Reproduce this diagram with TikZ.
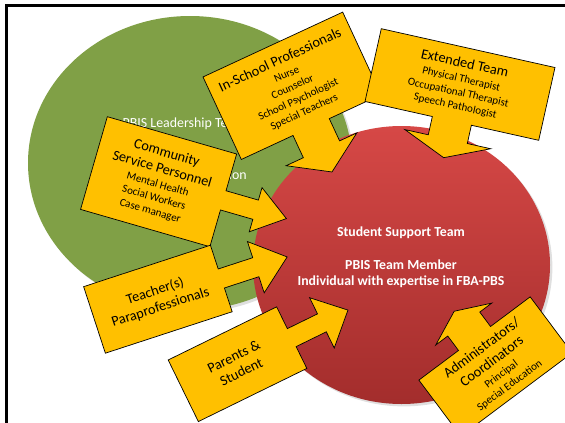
\documentclass[tikz,border=0pt]{standalone}
\usepackage{fontspec}
\setmainfont{Carlito}
\usetikzlibrary{shadows}
\definecolor{olivegreen}{RGB}{128,160,70}
\definecolor{redtop}{RGB}{214,72,70}
\definecolor{redbottom}{RGB}{163,45,44}
\definecolor{gold}{RGB}{255,192,0}
\newcommand{\hd}{\fontsize{14.3}{17}\selectfont}
\newcommand{\sm}{\fontsize{11}{13.8}\selectfont}
\tikzstyle{callout} = [draw=black, fill=gold, line width=0.7pt, line join=miter]
\tikzstyle{calltext} = [align=center, font=\sm, inner sep=0pt]
\tikzstyle{teamtext} = [align=center, text=white, inner sep=0pt]

\begin{document}
\begin{tikzpicture}[x=1pt, y=-1pt]
    \clip (0,0) rectangle (565,423);
    % slide frame
    \draw [line width=3pt] (6,423) -- (6,5.7) -- (565,5.7);

    % the two teams
    \fill [olivegreen, drop shadow={opacity=0.25}] (190,163) ellipse [x radius=162, y radius=147];
    \path [top color=redtop, bottom color=redbottom, drop shadow={opacity=0.25}] (401.5,265) ellipse [x radius=148.5, y radius=139];
    \node (leader) [teamtext, font=\fontsize{13.9}{17}\selectfont] at (184,124) {PBIS Leadership Team};
    \node (leaderb) [teamtext, font=\fontsize{13.9}{17}\selectfont, anchor=east] at (247,175) {ion};
    \node (sst) [teamtext, font=\fontsize{13.8}{16.5}\bfseries\selectfont] at (401,257) {Student Support Team\\[16.5pt] PBIS Team Member\\ Individual with expertise in FBA-PBS};

    % callouts
    \begin{scope}[shift={(158.6,181.7)}, rotate=-16.1, transform shape]
        \draw [callout] (-67.3,-48.25) -- (67.3,-48.25) -- (67.3,-10) -- (101,-10) -- (101,-23) -- (133,0) -- (101,23) -- (101,10) -- (67.3,10) -- (67.3,48.25) -- (-67.3,48.25) -- cycle;
        \node (community) [calltext] at (0,0) {{\hd Community}\\[3pt] {\hd Service Personnel}\\[1pt] Mental Health\\ Social Workers\\ Case manager};
    \end{scope}
    \begin{scope}[shift={(157.9,299.2)}, rotate=18.1, transform shape]
        \draw [callout] (-66.7,-35) -- (66.7,-35) -- (66.7,-10) -- (103,-10) -- (103,-27) -- (136,0) -- (103,27) -- (103,10) -- (66.7,10) -- (66.7,35) -- (-66.7,35) -- cycle;
        \node (teacher) [calltext, font=\hd] at (0,0) {Teacher(s)\\ Paraprofessionals};
    \end{scope}
    \begin{scope}[shift={(237.5,364.2)}, rotate=26.1, transform shape]
        \draw [callout] (-60.4,-34.3) -- (60.4,-34.3) -- (60.4,-10) -- (94,-10) -- (94,-28) -- (123,0) -- (94,28) -- (94,10) -- (60.4,10) -- (60.4,34.3) -- (-60.4,34.3) -- cycle;
        \node (parents) [calltext, font=\hd] at (0,0) {Parents \&\\ Student};
    \end{scope}
    \begin{scope}[shift={(292,85.8)}, rotate=24.9, transform shape]
        \draw [callout] (-77,-45.5) -- (77,-45.5) -- (77,45.5) -- (20,45.5) -- (20,70) -- (39,70) -- (0,95) -- (-39,70) -- (-20,70) -- (-20,45.5) -- (-77,45.5) -- cycle;
        \node (inschool) [calltext] at (0,0) {{\hd In-School Professionals}\\[1pt] Nurse\\ Counselor\\ School Psychologist\\ Special Teachers};
    \end{scope}
    \begin{scope}[shift={(460,84.5)}, rotate=-12.6, transform shape]
        \draw [callout] (-89,-37.3) -- (89,-37.3) -- (89,37.3) -- (20,37.3) -- (20,56) -- (44,56) -- (0,75) -- (-44,56) -- (-20,56) -- (-20,37.3) -- (-89,37.3) -- cycle;
        \node (extended) [calltext] at (0,0) {{\hd Extended Team}\\[1pt] Physical Therapist\\ Occupational Therapist\\ Speech Pathologist};
    \end{scope}
    \begin{scope}[shift={(495.5,366.5)}, rotate=36.8, transform shape]
        \draw [callout] (-69.5,-35) -- (-20,-35) -- (-20,-53) -- (-35,-53) -- (0,-69) -- (35,-53) -- (20,-53) -- (20,-35) -- (69.5,-35) -- (69.5,35) -- (-69.5,35) -- cycle;
        \node (admin) [calltext] at (0,0) {{\hd Administrators/}\\[3pt] {\hd Coordinators}\\[1pt] Principal\\ Special Education};
    \end{scope}
\end{tikzpicture}
\end{document}
